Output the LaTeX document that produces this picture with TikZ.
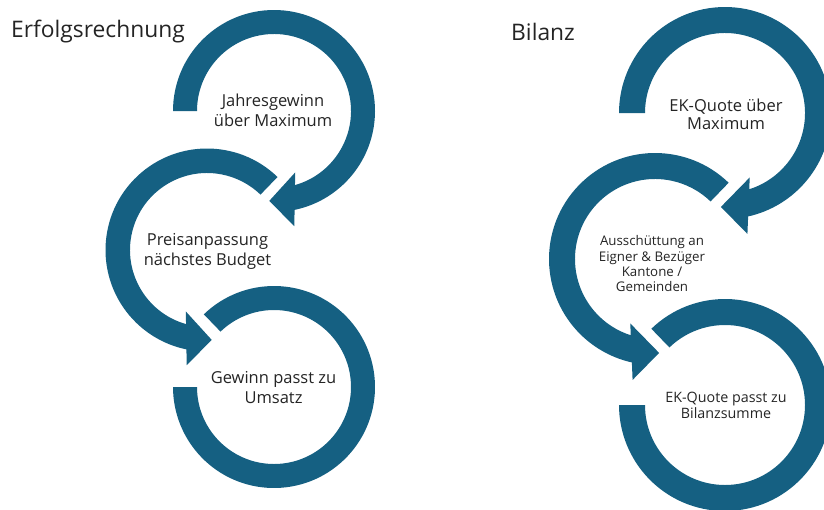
\documentclass[tikz,border=0pt]{standalone}
\usepackage{fontspec}
\setmainfont{Open Sans}
\definecolor{ringblue}{HTML}{156082}
\definecolor{txtgray}{HTML}{242424}
\begin{document}
\begin{tikzpicture}[x=1pt,y=1pt,
  ring/.style={fill=ringblue,draw=none},
  lbl/.style={anchor=base,inner sep=0pt,text=txtgray},
  ttl/.style={anchor=base west,inner sep=0pt,text=txtgray,font=\fontsize{22.8}{27}\selectfont},
  bigl/.style={lbl,font=\fontsize{16.5}{20}\selectfont},
  midl/.style={lbl,font=\fontsize{14.3}{17}\selectfont},
  smalll/.style={lbl,font=\fontsize{13.3}{16}\selectfont}]
\useasboundingbox (0,0) rectangle (824,-509);
\clip (0,0) rectangle (824,-509);

% ---------------- Erfolgsrechnung ----------------
\node[ttl] (ter) at (11,-37) {Erfolgsrechnung};

% circle 1 (clockwise, arrow at bottom)
\begin{scope}[shift={(274,-111)}]
  \fill[ring] (180:101) arc[start angle=180,end angle=-79,radius=101]
     -- (-79:77) arc[start angle=-79,end angle=180,radius=77] -- cycle;
  \fill[ring] (-71:65) -- (-93:90) -- (-80:117) -- cycle;
\end{scope}
% circle 2 (counter-clockwise, arrow at bottom)
\begin{scope}[shift={(207,-250)}]
  \fill[ring] (46:101.5) arc[start angle=46,end angle=259,radius=101.5]
     -- (259:77) arc[start angle=259,end angle=46,radius=77] -- cycle;
  \fill[ring] (-109:65) -- (-87:90) -- (-100:117) -- cycle;
\end{scope}
% circle 3 (clockwise, no arrow)
\begin{scope}[shift={(274,-387)}]
  \fill[ring] (134:101) arc[start angle=134,end angle=-180,radius=101]
     -- (180:77) arc[start angle=-180,end angle=134,radius=77] -- cycle;
\end{scope}

\node[bigl] (a1) at (273,-106.5) {Jahresgewinn};
\node[bigl] (a2) at (273,-126.5) {über Maximum};
\node[bigl] (b1) at (207.5,-245) {Preisanpassung};
\node[bigl] (b2) at (207.5,-265) {nächstes Budget};
\node[bigl] (c1) at (273.5,-383.3) {Gewinn passt zu};
\node[bigl] (c2) at (273.5,-403.3) {Umsatz};

% ---------------- Bilanz ----------------
\node[ttl] (tbi) at (511,-40.7) {Bilanz};

% circle 4
\begin{scope}[shift={(725,-113)}]
  \fill[ring] (180:106) arc[start angle=180,end angle=-78,radius=106]
     -- (-78:80) arc[start angle=-78,end angle=180,radius=80] -- cycle;
  \fill[ring] (-69:69) -- (-92.5:94) -- (-79.5:123) -- cycle;
\end{scope}
% circle 5
\begin{scope}[shift={(655,-259)}]
  \fill[ring] (46:106) arc[start angle=46,end angle=258,radius=106]
     -- (258:80) arc[start angle=258,end angle=46,radius=80] -- cycle;
  \fill[ring] (-111:69) -- (-87.5:94) -- (-100.5:123) -- cycle;
\end{scope}
% circle 6
\begin{scope}[shift={(725,-405)}]
  \fill[ring] (134:106) arc[start angle=134,end angle=-180,radius=106]
     -- (180:80) arc[start angle=-180,end angle=134,radius=80] -- cycle;
\end{scope}

\node[bigl] (d1) at (726,-111) {EK-Quote über};
\node[bigl] (d2) at (726,-129.5) {Maximum};
\node[smalll] (e1) at (652,-245.5) {Ausschüttung an};
\node[smalll] (e2) at (652,-261) {Eigner \& Bezüger};
\node[smalll] (e3) at (652,-276) {Kantone /};
\node[smalll] (e4) at (652,-291.5) {Gemeinden};
\node[midl] (f1) at (726,-402) {EK-Quote passt zu};
\node[midl] (f2) at (726,-418.3) {Bilanzsumme};
\end{tikzpicture}
\end{document}
